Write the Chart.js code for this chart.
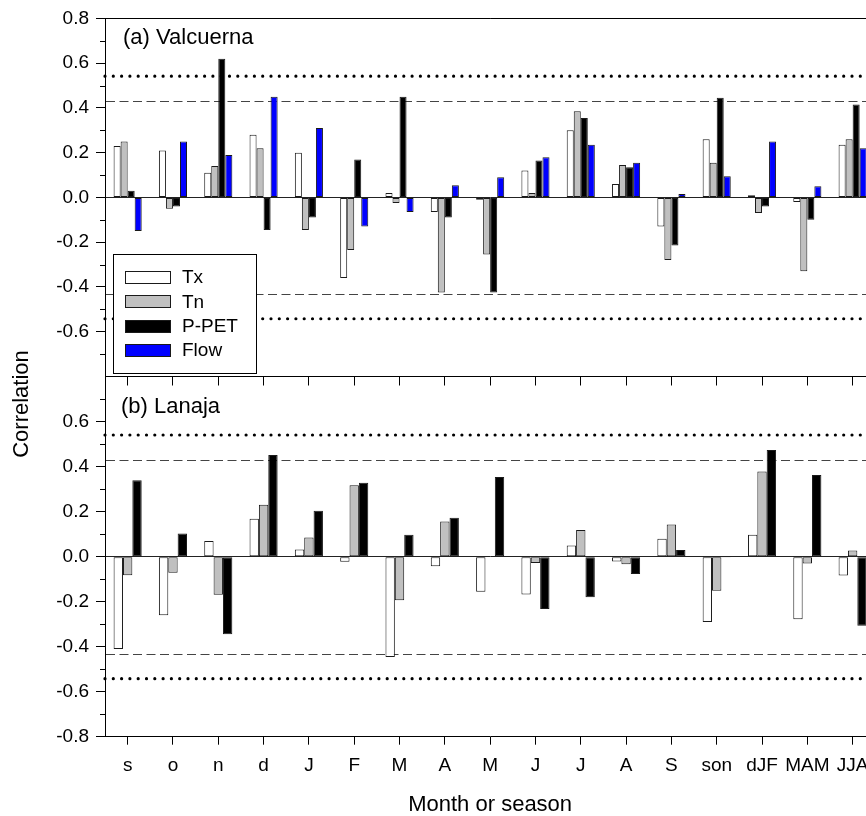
<!DOCTYPE html>
<html>
<head>
<meta charset="utf-8">
<script src="https://cdn.jsdelivr.net/npm/chart.js@4"></script>
<style>
    html, body { margin: 0; padding: 0; background: #fff; overflow: hidden; }
    #wrap { position: relative; width: 900px; height: 816px; }
    #wrap canvas { position: absolute; left: 0; top: 0; }
</style>
</head>
<body>
<div id="wrap">
    <canvas id="chartA" width="900" height="400"></canvas>
    <canvas id="chartB" width="900" height="816"></canvas>
</div>
<script>
// Month / season categories (shared x axis)
const categories = ['s', 'o', 'n', 'd', 'J', 'F', 'M', 'A', 'M', 'J', 'J', 'A', 'S', 'son', 'dJF', 'MAM', 'JJA'];
const seriesNames = ['Tx', 'Tn', 'P-PET', 'Flow'];

// (a) Valcuerna
const valcuernaTx   = [0.23, 0.21, 0.11, 0.28, 0.20, -0.36, 0.02, -0.065, -0.01, 0.12, 0.30, 0.06, -0.13, 0.26, 0.01, -0.02, 0.235];
const valcuernaTn   = [0.25, -0.05, 0.14, 0.22, -0.145, -0.235, -0.025, -0.425, -0.255, 0.02, 0.385, 0.145, -0.28, 0.155, -0.07, -0.33, 0.26];
const valcuernaPPET = [0.03, -0.04, 0.62, -0.145, -0.09, 0.17, 0.45, -0.09, -0.425, 0.165, 0.355, 0.135, -0.215, 0.445, -0.04, -0.10, 0.415];
const valcuernaFlow = [-0.15, 0.25, 0.19, 0.45, 0.31, -0.13, -0.065, 0.055, 0.09, 0.18, 0.235, 0.155, 0.015, 0.095, 0.25, 0.05, 0.22];

// (b) Lanaja
const lanajaTx   = [-0.41, -0.26, 0.07, 0.17, 0.033, -0.022, -0.445, -0.042, -0.155, -0.168, 0.05, -0.021, 0.08, -0.29, 0.098, -0.278, -0.083];
const lanajaTn   = [-0.082, -0.071, -0.169, 0.232, 0.086, 0.319, -0.193, 0.157, 0.002, -0.027, 0.119, -0.033, 0.144, -0.151, 0.38, -0.03, 0.028];
const lanajaPPET = [0.341, 0.104, -0.344, 0.453, 0.205, 0.33, 0.098, 0.174, 0.355, -0.232, -0.18, -0.076, 0.03, -0.003, 0.475, 0.364, -0.307];

// significance levels
const sigDashed = 0.433;
const sigDotted = 0.542;

const yMin = -0.8, yMax = 0.8, yStep = 0.2;

const FONT = '"Liberation Sans", Arial, sans-serif';
Chart.defaults.font.family = FONT;
Chart.defaults.color = '#000';

const fills = ['#ffffff', '#c0c0c0', '#000000', '#0000ff'];

function makeDatasets(list) {
    return list.map((data, i) => ({
        label: seriesNames[i],
        data: data,
        backgroundColor: fills[i],
        borderColor: '#1a1a1a',
        borderWidth: 1,
        borderSkipped: false,
        categoryPercentage: 0.62,
        barPercentage: 1.0
    }));
}

// dashed and dotted significance lines
const sigLines = {
    id: 'sigLines',
    beforeDatasetsDraw(chart) {
        const { ctx, chartArea: a, scales: { y } } = chart;
        ctx.save();
        ctx.strokeStyle = '#444';
        ctx.lineWidth = 1;
        ctx.setLineDash([9, 4.5]);
        [sigDashed, -sigDashed].forEach(v => {
            const py = Math.round(y.getPixelForValue(v)) + 0.5;
            ctx.beginPath();
            ctx.moveTo(a.left + 1, py);
            ctx.lineTo(a.right, py);
            ctx.stroke();
        });
        ctx.strokeStyle = '#000';
        ctx.lineWidth = 3.2;
        ctx.lineCap = 'round';
        ctx.setLineDash([0, 8.3]);
        [sigDotted, -sigDotted].forEach(v => {
            const py = y.getPixelForValue(v);
            ctx.beginPath();
            ctx.moveTo(a.left, py);
            ctx.lineTo(a.right, py);
            ctx.stroke();
        });
        ctx.restore();
    }
};

// minor ticks, top line, panel label
const panelDecor = {
    id: 'panelDecor',
    afterDraw(chart, args, opts) {
        const { ctx, chartArea: a, scales: { y } } = chart;
        ctx.save();
        ctx.strokeStyle = '#000';
        ctx.lineWidth = 1;
        for (let k = -7; k <= 7; k += 2) {
            const py = Math.round(y.getPixelForValue(k / 10)) + 0.5;
            ctx.beginPath();
            ctx.moveTo(a.left - 5, py);
            ctx.lineTo(a.left, py);
            ctx.stroke();
        }
        if (opts.topLine) {
            const py = Math.round(a.top) + 0.5;
            ctx.beginPath();
            ctx.moveTo(a.left, py);
            ctx.lineTo(a.right, py);
            ctx.stroke();
        }
        ctx.fillStyle = '#000';
        ctx.font = '22px ' + FONT;
        ctx.textBaseline = 'middle';
        ctx.fillText(opts.label, opts.labelX, opts.labelY);
        if (opts.yTitle) {
            ctx.translate(22, 404);
            ctx.rotate(-Math.PI / 2);
            ctx.textAlign = 'center';
            ctx.fillText(opts.yTitle, 0, 0);
        }
        ctx.restore();
    }
};

// boxed legend in the top panel
const boxLegend = {
    id: 'boxLegend',
    afterDraw(chart) {
        const { ctx } = chart;
        const bx = 113.5, by = 254.5, bw = 143, bh = 119;
        ctx.save();
        ctx.fillStyle = '#fff';
        ctx.fillRect(bx, by, bw, bh);
        ctx.strokeStyle = '#000';
        ctx.lineWidth = 1;
        ctx.strokeRect(bx, by, bw, bh);
        ctx.font = '19px ' + FONT;
        ctx.textBaseline = 'middle';
        chart.data.datasets.forEach((ds, i) => {
            const cy = 277 + i * 24.4;
            ctx.fillStyle = ds.backgroundColor;
            ctx.fillRect(125.5, Math.round(cy - 6) + 0.5, 45, 12);
            ctx.strokeStyle = '#1a1a1a';
            ctx.strokeRect(125.5, Math.round(cy - 6) + 0.5, 45, 12);
            ctx.fillStyle = '#000';
            ctx.fillText(ds.label, 182, cy + 1);
        });
        ctx.restore();
    }
};

function yAxis(hideValue) {
    const hidden = v => Math.abs(v - hideValue) < 1e-6;
    return {
        min: yMin,
        max: yMax,
        afterFit: s => { s.width = 105; },
        ticks: {
            stepSize: yStep,
            padding: 7,
            font: { size: 19 },
            callback: v => hidden(v) ? '' : (Math.abs(v) < 1e-9 ? '0.0' : v.toFixed(1))
        },
        grid: {
            drawOnChartArea: true,
            tickLength: 9,
            color: c => (c.tick && Math.abs(c.tick.value) < 1e-9) ? '#222' : 'rgba(0,0,0,0)',
            tickColor: c => (c.tick && hidden(c.tick.value)) ? 'rgba(0,0,0,0)' : '#000'
        },
        border: { display: true, color: '#000', width: 1 }
    };
}

function baseOptions() {
    return {
        responsive: false,
        animation: false,
        devicePixelRatio: 1,
        plugins: { legend: { display: false }, tooltip: { enabled: false } }
    };
}

// (a) Valcuerna
const optsA = baseOptions();
optsA.layout = { padding: { top: 17.3, right: 24.7, bottom: 0, left: 0 } };
optsA.plugins.panelDecor = { label: '(a) Valcuerna', labelX: 123, labelY: 37.5, topLine: true };
optsA.scales = {
    x: {
        afterFit: s => { s.height = 23.5; },
        ticks: { display: false },
        grid: { offset: false, drawOnChartArea: false, tickLength: 9, tickColor: '#000' },
        border: { display: true, color: '#000', width: 1 }
    },
    y: yAxis(-0.8)
};
new Chart(document.getElementById('chartA'), {
    type: 'bar',
    data: { labels: categories, datasets: makeDatasets([valcuernaTx, valcuernaTn, valcuernaPPET, valcuernaFlow]) },
    options: optsA,
    plugins: [sigLines, panelDecor, boxLegend]
});

// (b) Lanaja
const optsB = baseOptions();
optsB.layout = { padding: { top: 377, right: 24.7, bottom: 0, left: 0 } };
optsB.plugins.panelDecor = { label: '(b) Lanaja', labelX: 121, labelY: 407, topLine: false, yTitle: 'Correlation' };
optsB.scales = {
    x: {
        afterFit: s => { s.height = 79.3; },
        ticks: { padding: 10, font: { size: 19 }, maxRotation: 0, autoSkip: false },
        grid: { offset: false, drawOnChartArea: false, tickLength: 8, tickColor: '#000' },
        border: { display: true, color: '#000', width: 1 },
        title: { display: true, text: 'Month or season', font: { size: 22 }, padding: { top: 0, bottom: -2 } }
    },
    y: yAxis(0.8)
};
new Chart(document.getElementById('chartB'), {
    type: 'bar',
    data: { labels: categories, datasets: makeDatasets([lanajaTx, lanajaTn, lanajaPPET]) },
    options: optsB,
    plugins: [sigLines, panelDecor]
});
</script>
</body>
</html>
